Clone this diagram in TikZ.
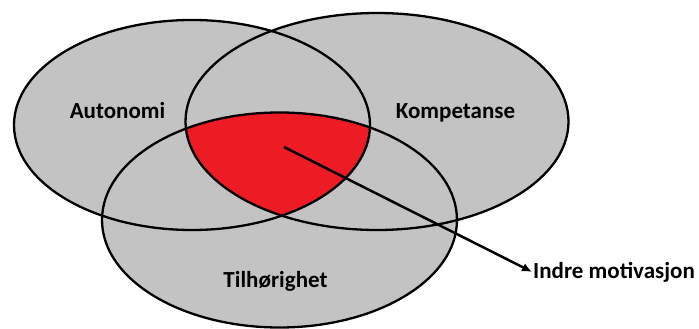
\documentclass[tikz,border=0pt]{standalone}
\usepackage{fontspec}
\setmainfont{Carlito}
\usepackage{xcolor}
\usetikzlibrary{arrows.meta,positioning}
\definecolor{vennGray}{RGB}{195,195,195}
\definecolor{vennRed}{RGB}{237,28,36}
\tikzset{
  ring/.style={draw=black, line width=2.3pt},
  lbl/.style={font=\bfseries\fontsize{23}{27}\selectfont, inner sep=1pt},
  line/.style={-{Latex[length=10pt,width=9pt]}, line width=2.5pt}
}
\newcommand{\autEll}{(aut) ellipse [x radius=178pt, y radius=105pt]}
\newcommand{\kompEll}{(komp) ellipse [x radius=191.5pt, y radius=108.5pt]}
\newcommand{\tilhEll}{(tilh) ellipse [x radius=177.5pt, y radius=107.5pt]}

\begin{document}
\begin{tikzpicture}[x=1pt, y=-1pt]
        \useasboundingbox (0,0) rectangle (699,329);
        \coordinate (aut) at (192,125);
        \coordinate (komp) at (377,121.5);
        \coordinate (tilh) at (279.5,220);

        \fill[vennGray] \autEll;
        \fill[vennGray] \kompEll;
        \fill[vennGray] \tilhEll;
        \begin{scope}
          \clip \autEll;
          \clip \kompEll;
          \fill[vennRed] \tilhEll;
        \end{scope}
        \draw[ring] \autEll;
        \draw[ring] \kompEll;
        \draw[ring] \tilhEll;

        \node[lbl, anchor=base] (autL) at (117.5,118) {Autonomi};
        \node[lbl, anchor=base] (kompL) at (455.5,118) {Kompetanse};
        \node[lbl, anchor=base] (tilhL) at (275.5,287) {Tilhørighet};

        \coordinate (midt) at (284,147);
        \node[lbl, anchor=base west] (indre) at (532,278) {Indre motivasjon};
        \draw[line] (midt) -- (indre.west);
      \end{tikzpicture}
\end{document}
